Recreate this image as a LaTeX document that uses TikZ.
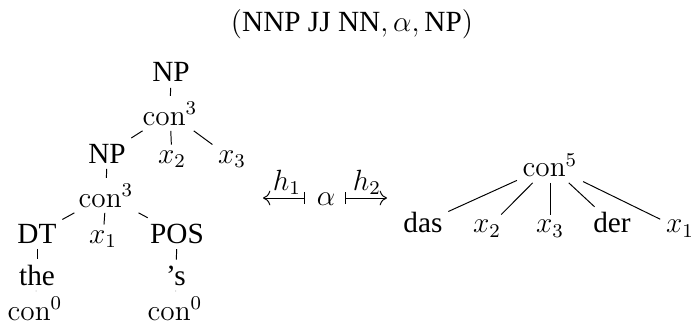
\documentclass[tikz,border=0pt]{standalone}
\usepackage[no-math]{fontspec}
\setmainfont{Liberation Serif}
\usetikzlibrary{arrows.meta}
\begin{document}
\begin{tikzpicture}[x=0.41pt,y=-0.41pt,
  lbl/.style={inner sep=2.2pt,anchor=base,font=\fontsize{12}{14.4}\selectfont},
  edge/.style={draw,line width=0.4pt},
  maparrow/.style={draw,line width=0.4pt,{Bar[width=5pt]}-{To[length=3pt,width=6pt]}}]
\useasboundingbox (0,0) rectangle (696,334);
% title
\node[lbl] (title) at (352,32) {$(\mbox{NNP JJ NN}, \alpha, \mbox{NP})$};
% left tree
\node[lbl] (np1) at (171,82) {NP};
\node[lbl] (c1) at (170,125) {$\mathrm{con}^3$};
\node[lbl] (np2) at (107,163) {NP};
\node[lbl] (x2a) at (172,163) {$x_2$};
\node[lbl] (x3a) at (232,163) {$x_3$};
\node[lbl] (c2) at (106,207) {$\mathrm{con}^3$};
\node[lbl] (dt) at (37,243) {DT};
\node[lbl] (x1a) at (103,243) {$x_1$};
\node[lbl] (pos) at (177,243) {POS};
\node[lbl] (the) at (37,285) {the};
\node[lbl] (s) at (176,285) {'s};
\node[lbl] (c0a) at (35,320) {$\mathrm{con}^0$};
\node[lbl] (c0b) at (175,320) {$\mathrm{con}^0$};
\draw[edge] (np1) -- (c1);
\draw[edge] (c1) -- (np2);
\draw[edge] (c1) -- (x2a);
\draw[edge] (c1) -- (x3a);
\draw[edge] (np2) -- (c2);
\draw[edge] (c2) -- (dt);
\draw[edge] (c2) -- (x1a);
\draw[edge] (c2) -- (pos);
\draw[edge] (dt) -- (the);
\draw[edge] (the) -- (c0a);
\draw[edge] (pos) -- (s);
\draw[edge] (s) -- (c0b);
% middle
\node[lbl] (alpha) at (326,205) {$\alpha$};
\coordinate (l0) at (305,198);
\coordinate (l1) at (263,198);
\coordinate (r0) at (345,198);
\coordinate (r1) at (387,198);
\draw[maparrow] (l0) -- (l1);
\draw[maparrow] (r0) -- (r1);
\node[lbl] (h1) at (287,190) {$h_1$};
\node[lbl] (h2) at (367,190) {$h_2$};
% right tree
\node[lbl] (c5) at (550,177) {$\mathrm{con}^5$};
\node[lbl] (das) at (423,233) {das};
\node[lbl] (x2b) at (487,233) {$x_2$};
\node[lbl] (x3b) at (550,233) {$x_3$};
\node[lbl] (der) at (612,233) {der};
\node[lbl] (x1b) at (680,233) {$x_1$};
\draw[edge] (c5) -- (das);
\draw[edge] (c5) -- (x2b);
\draw[edge] (c5) -- (x3b);
\draw[edge] (c5) -- (der);
\draw[edge] (c5) -- (x1b);
\end{tikzpicture}
\end{document}
